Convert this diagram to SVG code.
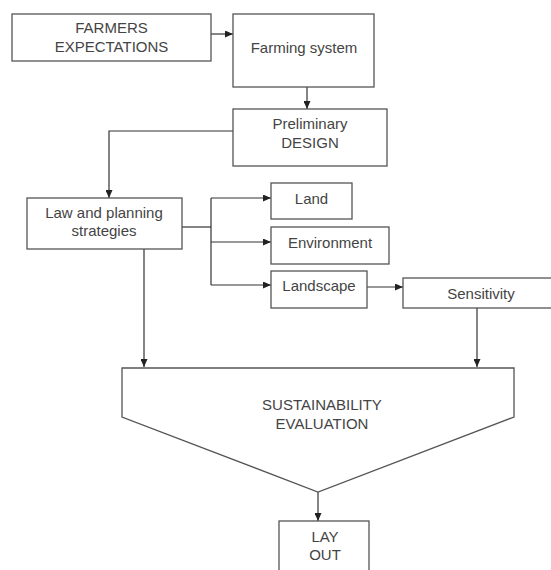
<svg xmlns="http://www.w3.org/2000/svg" width="551" height="570" viewBox="0 0 551 570">
<style>
.box{fill:#fff;stroke:#555;stroke-width:1.3}
.t{font-family:"Liberation Sans",Arial,sans-serif;font-size:15px;fill:#444;text-anchor:middle}
.c{fill:none;stroke:#333;stroke-width:1.2}
</style>
<defs>
<marker id="ah" markerWidth="8" markerHeight="7" refX="8" refY="3.5" orient="auto" markerUnits="userSpaceOnUse">
<path d="M0,0 L8,3.5 L0,7 Z" fill="#222"/>
</marker>
</defs>
<rect width="551" height="570" fill="#fff"/>
<g id="connectors">
<path class="c" d="M211,34 H233" marker-end="url(#ah)"/>
<path class="c" d="M307,87 V109" marker-end="url(#ah)"/>
<path class="c" d="M233,131 H109 V198" marker-end="url(#ah)"/>
<path class="c" d="M182,227 H211"/>
<path class="c" d="M211,198 V285"/>
<path class="c" d="M211,198 H271" marker-end="url(#ah)"/>
<path class="c" d="M211,242 H271" marker-end="url(#ah)"/>
<path class="c" d="M211,285 H271" marker-end="url(#ah)"/>
<path class="c" d="M367,287 H403" marker-end="url(#ah)"/>
<path class="c" d="M144,249 V367" marker-end="url(#ah)"/>
<path class="c" d="M477,308 V367" marker-end="url(#ah)"/>
<path class="c" d="M318,492 V521" marker-end="url(#ah)"/>
</g>
<g id="farmers">
<rect class="box" x="12" y="14" width="199" height="47"/>
<text class="t" x="111.5" y="33">FARMERS</text>
<text class="t" x="111.5" y="52">EXPECTATIONS</text>
</g>
<g id="farming">
<rect class="box" x="233" y="14" width="141" height="73"/>
<text class="t" x="304" y="53">Farming system</text>
</g>
<g id="preliminary">
<rect class="box" x="233" y="109" width="154" height="57"/>
<text class="t" x="310" y="129">Preliminary</text>
<text class="t" x="310" y="148">DESIGN</text>
</g>
<g id="law">
<rect class="box" x="27" y="198" width="155" height="51"/>
<text class="t" x="104" y="218">Law and planning</text>
<text class="t" x="104" y="236">strategies</text>
</g>
<g id="land">
<rect class="box" x="271" y="183" width="81" height="36"/>
<text class="t" x="311.5" y="204">Land</text>
</g>
<g id="environment">
<rect class="box" x="271" y="227" width="118" height="37"/>
<text class="t" x="330" y="248">Environment</text>
</g>
<g id="landscape">
<rect class="box" x="271" y="271" width="96" height="37"/>
<text class="t" x="319" y="291">Landscape</text>
</g>
<g id="sensitivity">
<rect class="box" x="403" y="278" width="160" height="30"/>
<text class="t" x="481" y="299">Sensitivity</text>
</g>
<g id="sustainability">
<path class="box" d="M122,368 H514 V417 L318,492 L122,417 Z"/>
<text class="t" x="322" y="410">SUSTAINABILITY</text>
<text class="t" x="322" y="429">EVALUATION</text>
</g>
<g id="layout">
<rect class="box" x="279" y="521" width="90" height="60"/>
<text class="t" x="325" y="542">LAY</text>
<text class="t" x="325" y="560">OUT</text>
</g>
</svg>
